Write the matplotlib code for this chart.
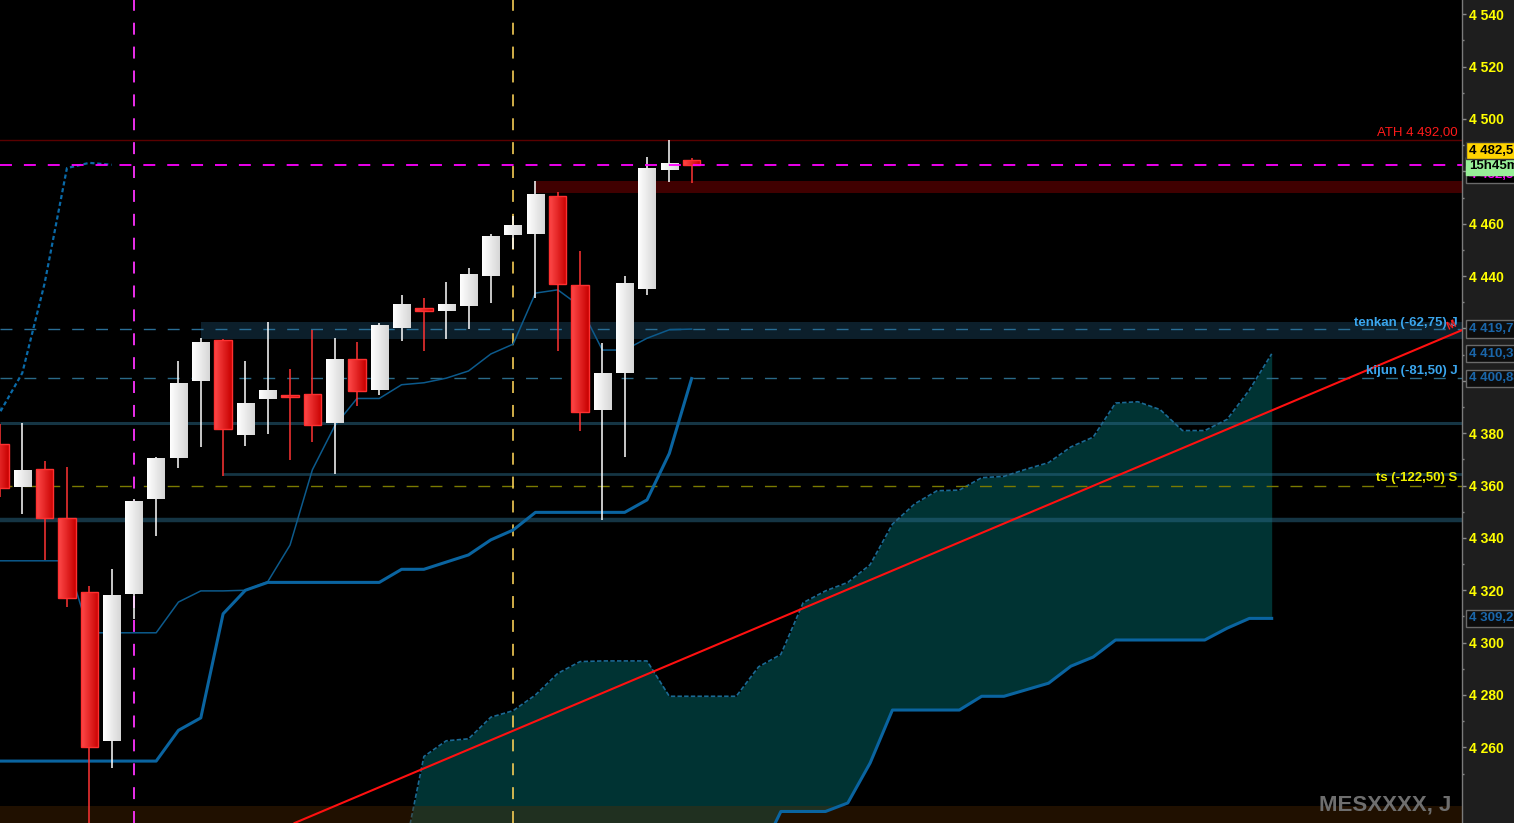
import numpy as np
import matplotlib
matplotlib.use("Agg")
import matplotlib.pyplot as plt
from matplotlib.colors import LinearSegmentedColormap
from matplotlib.patches import Rectangle
from matplotlib.transforms import blended_transform_factory

plt.rcParams['font.family'] = ['Liberation Sans', 'DejaVu Sans']
plt.rcParams['lines.scale_dashes'] = False

# ---------------- data ----------------
opens = [4376.0, 4359.5, 4366.5, 4347.5, 4319.5, 4262.25, 4318.5, 4354.75,
         4370.5, 4400.0, 4415.5, 4379.25, 4393.0, 4394.5, 4395.0, 4384.0,
         4408.5, 4396.5, 4420.25, 4427.75, 4426.75, 4428.5, 4440.0, 4455.75,
         4456.0, 4470.5, 4436.5, 4388.75, 4403.0, 4435.0, 4480.5, 4484.25]
highs = [4383.5, 4384.0, 4369.5, 4367.25, 4321.75, 4328.25, 4355.0, 4371.0,
         4407.5, 4416.5, 4416.0, 4407.5, 4422.5, 4404.5, 4419.25, 4416.5,
         4414.75, 4422.0, 4432.75, 4431.5, 4437.75, 4443.0, 4456.0, 4463.0,
         4476.25, 4472.0, 4449.5, 4414.25, 4440.0, 4485.5, 4492.0, 4485.0]
lows = [4355.5, 4349.0, 4331.5, 4313.5, 4225.0, 4252.0, 4309.0, 4340.75,
        4366.75, 4374.75, 4363.5, 4375.0, 4379.75, 4369.75, 4376.5, 4364.5,
        4390.5, 4394.5, 4415.25, 4411.5, 4416.0, 4419.75, 4429.75, 4450.25,
        4431.75, 4411.5, 4380.75, 4346.75, 4371.0, 4432.75, 4476.0, 4475.5]
closes = [4359.0, 4365.75, 4347.5, 4317.0, 4260.0, 4318.0, 4354.25, 4370.5,
          4399.0, 4414.75, 4381.75, 4391.5, 4396.5, 4393.75, 4383.25, 4408.25,
          4396.0, 4421.25, 4429.25, 4426.5, 4429.5, 4440.75, 4455.25, 4459.5,
          4471.25, 4437.0, 4388.0, 4403.0, 4437.25, 4481.25, 4483.25, 4482.5]

tenkan = [4331.25, 4331.25, 4331.25, 4331.25, 4303.75, 4303.75, 4303.75, 4303.75,
          4315.5, 4319.75, 4319.75, 4320.0, 4323.25, 4337.25, 4366.0, 4382.75,
          4393.25, 4393.25, 4398.5, 4399.25, 4401.0, 4403.75, 4410.25, 4414.0,
          4433.5, 4434.75, 4428.5, 4411.75, 4411.75, 4416.25, 4419.5, 4419.75]
kijun = [4254.75, 4254.75, 4254.75, 4254.75, 4254.75, 4254.75, 4254.75, 4254.75,
         4266.5, 4271.25, 4311.0, 4320.0, 4323.0, 4323.0, 4323.0, 4323.0,
         4323.0, 4323.0, 4328.0, 4328.0, 4330.75, 4333.5, 4339.25, 4343.0,
         4349.75, 4349.75, 4349.75, 4349.75, 4349.75, 4354.5, 4372.25, 4400.88]

cloud_start = 18
senkou_a = [4214.75, 4256.5, 4262.5, 4263.25, 4271.5, 4274.0, 4280.0, 4288.25,
            4292.75, 4293.0, 4293.0, 4293.0, 4279.5, 4279.5, 4279.5, 4279.5,
            4290.75, 4295.5, 4315.25, 4319.75, 4323.0, 4329.75, 4345.25, 4353.0,
            4358.0, 4358.25, 4363.0, 4363.5, 4366.25, 4368.75, 4374.75, 4378.5,
            4391.5, 4392.0, 4389.0, 4381.0, 4381.0, 4385.25, 4396.5, 4410.31]
senkou_b = [4210.0] * 16 + [4218.0, 4235.5, 4235.5, 4235.5, 4238.75, 4254.0,
                            4274.25, 4274.25, 4274.25, 4274.25, 4279.5, 4279.5,
                            4282.0, 4284.5, 4291.0, 4294.5, 4301.0, 4301.0,
                            4301.0, 4301.0, 4301.0, 4305.5, 4309.25, 4309.25]
chikou_shift = 26

ath = 4492.00
last_price = 4482.50
tenkan_dist, kijun_dist, ts_dist = -62.75, -81.50, -122.50
ts_level = 4360.00
countdown = "15h45m"
symbol = "MESXXXX, J"

red_zone = (4471.75, 4476.25)
red_zone_start = 24
blue_zone = (4416.0, 4422.5)
blue_zone_start = 9
levels = [4383.75, 4364.25, 4347.0]
level_starts = [None, 10, None]
bottom_zone = (4190.0, 4237.5)
vline_idx = [6, 23]
trend_idx = [17.93, 57.37]
trend_price = [4248.1, 4390.0]
yticks = list(range(4260, 4541, 20))
hidden_ticks = [4400, 4420, 4480]

# ---------------- figure ----------------
W, H = 1514, 823
AXW = 1462
fig = plt.figure(figsize=(W / 100, H / 100), dpi=100, facecolor='#1e1e1e')
ax = fig.add_axes([0, 0, AXW / W, 1])
ax.set_facecolor('black')

n = len(opens)
idx = np.arange(n)
xmax = 65.53
ax.set_xlim(0, xmax)
ax.set_ylim(4231.1, 4545.45)

DASH = (0, (8.6, 8.6))

# zones
ax.axhspan(*bottom_zone, color='#5a2d00', alpha=0.36, zorder=1.6, lw=0)
ax.add_patch(Rectangle((red_zone_start, red_zone[0]), xmax - red_zone_start,
                       red_zone[1] - red_zone[0], color='#400000', lw=0, zorder=0.5))
ax.add_patch(Rectangle((blue_zone_start, blue_zone[0]), xmax - blue_zone_start,
                       blue_zone[1] - blue_zone[0], color='#0c1f2b', lw=0, zorder=0.5))
lw_levels = [2.2, 2.0, 3.2]
for lv, st, lw in zip(levels, level_starts, lw_levels):
    x0 = 0 if st is None else st
    ax.plot([x0, xmax], [lv, lv], color='#2a6a88', alpha=0.5, lw=lw, zorder=1.5,
            solid_capstyle='butt')
ax.axhline(ath, color='#5a0000', lw=1.0, zorder=1.7)

# cloud
cidx = np.arange(cloud_start, cloud_start + len(senkou_a))
ax.fill_between(cidx, senkou_a, senkou_b, color='#003333', lw=0, zorder=1)
ax.plot(cidx, senkou_a, color='#1a6a94', lw=1.2, ls=(0, (3.2, 1.6)), zorder=1.2)
ax.plot(cidx, senkou_b, color='#0a64a0', lw=2.2, zorder=3)

# dashed level lines
ax.axhline(tenkan[-1], color='#2a6e96', lw=1.0, ls=DASH, zorder=2)
ax.axhline(kijun[-1], color='#2a6a88', lw=1.0, ls=DASH, zorder=2)
ax.axhline(ts_level, color='#7a7a00', lw=1.0, ls=DASH, zorder=2)
ax.axhline(last_price, color='#ff00ff', lw=1.3, ls=DASH, zorder=6)
ax.axvline(vline_idx[0], color='#ff33ff', lw=1.3, ls=DASH, zorder=2)
ax.axvline(vline_idx[1], color='#f5cc55', lw=1.2, ls=DASH, zorder=2)

# indicator lines
ax.plot(idx, tenkan, color='#0c5a8c', lw=1.1, zorder=3)
ax.plot(idx, kijun, color='#0a64a0', lw=2.2, zorder=3)
ch_i = idx[chikou_shift - 1:] - chikou_shift
ch_v = np.array(closes)[chikou_shift - 1:]
ax.plot(ch_i, ch_v, color='#0a6aa8', lw=1.6, ls=(0, (3.0, 2.0)), zorder=3)

# trendline
ax.axline((trend_idx[0], trend_price[0]), (trend_idx[1], trend_price[1]),
          color='#ff1010', lw=1.5, zorder=3.5)

# candles
w = 0.78
grad = np.linspace(0, 1, 64).reshape(1, -1)
cm_white = LinearSegmentedColormap.from_list('w', ['#ffffff', '#d6d6d6'])
cm_red = LinearSegmentedColormap.from_list('r', ['#ff4a4a', '#c80000'])
for i in range(n):
    o, h, l, c = opens[i], highs[i], lows[i], closes[i]
    up = c >= o
    wick_c = '#ffffff' if up else '#ff3333'
    ax.plot([i, i], [l, h], color=wick_c, lw=1.1, zorder=4, solid_capstyle='butt')
    bot, top = min(o, c), max(o, c)
    rect = Rectangle((i - w / 2, bot), w, top - bot, facecolor='none',
                     edgecolor='none' if up else '#ff3030', lw=1.0, zorder=5.1)
    ax.add_patch(rect)
    im = ax.imshow(grad, cmap=cm_white if up else cm_red, aspect='auto',
                   extent=(i - w / 2, i + w / 2, bot, top), zorder=5,
                   interpolation='bilinear')
    im.set_clip_path(rect)

ax.set_xlim(0, xmax)
ax.set_ylim(4231.1, 4545.45)


def fr(v, d):
    s = f"{v:,.{d}f}"
    return s.replace(',', ' ').replace('.', ',')


# y axis on the right
for s in ['top', 'left', 'bottom']:
    ax.spines[s].set_visible(False)
ax.spines['right'].set_color('#7a7a7a')
ax.spines['right'].set_linewidth(1.0)
ax.set_xticks([])
ax.yaxis.set_ticks_position('right')
ax.set_yticks(yticks)
ax.set_yticklabels(['' if t in hidden_ticks else fr(t, 0) for t in yticks])
ax.set_yticks(list(range(4250, 4541, 20)), minor=True)
ax.tick_params(axis='y', which='major', length=3.0, width=1, color='#8a8a8a',
               pad=2, labelcolor='#ffff00', labelsize=10)
ax.tick_params(axis='y', which='minor', length=1.6, width=1, color='#8a8a8a')
for lbl in ax.get_yticklabels():
    lbl.set_fontweight('bold')

# text labels on the chart
tr = blended_transform_factory(ax.transAxes, ax.transData)
xr = 1457.5 / AXW
ax.annotate(f"ATH {fr(ath, 2)}", (1458 / AXW, ath), xycoords=tr,
            xytext=(0, 2.9), textcoords='offset points', ha='right', va='baseline',
            color='#ff1a1a', fontsize=9.5, zorder=10)
ax.annotate(f"tenkan ({fr(tenkan_dist, 2)}) J", (xr, tenkan[-1]), xycoords=tr,
            xytext=(0, 2.2), textcoords='offset points', ha='right', va='baseline',
            color='#3aa6ee', fontsize=9.5, fontweight='bold', zorder=10)
ax.annotate(f"kijun ({fr(kijun_dist, 2)}) J", (xr, kijun[-1]), xycoords=tr,
            xytext=(0, 2.9), textcoords='offset points', ha='right', va='baseline',
            color='#3aa6ee', fontsize=9.5, fontweight='bold', zorder=10)
ax.annotate(f"ts ({fr(ts_dist, 2)}) S", (xr, ts_level), xycoords=tr,
            xytext=(0, 2.9), textcoords='offset points', ha='right', va='baseline',
            color='#f0f000', fontsize=9.5, fontweight='bold', zorder=10)
slope = (trend_price[1] - trend_price[0]) / (trend_idx[1] - trend_idx[0])
mx = 65.04
ax.annotate("M", (mx, trend_price[1] + slope * (mx - trend_idx[1])),
            xytext=(0, 7), textcoords='offset points', ha='center', va='center',
            rotation=25, color='#ff2020', fontsize=8, fontweight='bold', zorder=10)

# price boxes in the right scale
trf = blended_transform_factory(fig.transFigure, ax.transData)
bx = 1469 / W


def pbox(y, text, fc, tc, ec='#6a6a6a', dy=0, z=20, fs=9.5):
    ax.annotate(text, (bx, y), xycoords=trf, xytext=(0, dy), textcoords='offset points',
                ha='left', va='center', color=tc, fontsize=fs, fontweight='bold',
                annotation_clip=False, zorder=z,
                bbox=dict(boxstyle='square,pad=0.2', fc=fc, ec=ec, lw=1))


pbox(last_price, fr(last_price, 2), '#000000', '#ff00ff', dy=-7.0, z=20)
pbox(last_price, countdown, '#98f098', '#000000', ec='#98f098', dy=-0.8, z=21)
pbox(last_price, fr(last_price, 1), '#ffd400', '#000000', ec='#3a3a3a', dy=10.2, z=22)
pbox(tenkan[-1], fr(tenkan[-1], 2), '#0c0c0c', '#1a66aa', z=20)
pbox(senkou_a[-1], fr(senkou_a[-1], 2), '#0c0c0c', '#1a66aa', z=20)
pbox(kijun[-1], fr(kijun[-1], 2), '#0c0c0c', '#1a66aa', z=20)
pbox(senkou_b[-1], fr(senkou_b[-1], 2), '#0c0c0c', '#1a66aa', z=20)

fig.text(1451 / W, 13 / H, symbol, ha='right', va='baseline', color='#6e6e6e',
         fontsize=16, fontweight='bold')

fig.savefig('out.png', dpi=100, facecolor=fig.get_facecolor())
